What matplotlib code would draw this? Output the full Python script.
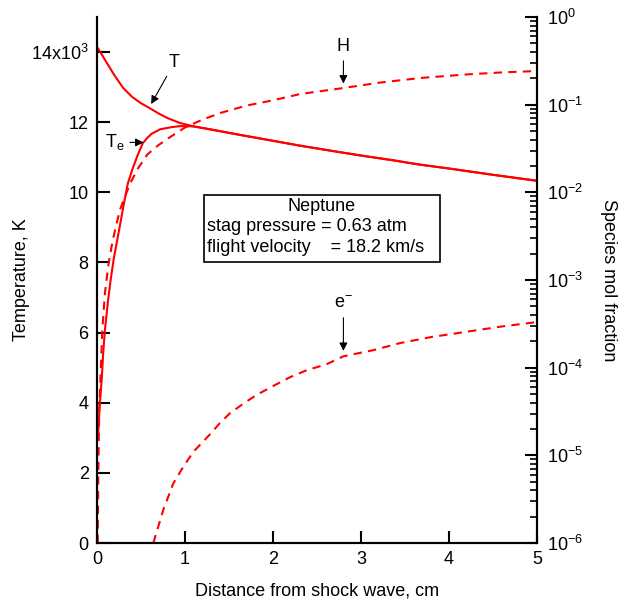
import matplotlib.pyplot as plt
import numpy as np
from matplotlib.patches import Rectangle
from matplotlib.ticker import FixedLocator, LogLocator, NullFormatter

plt.rcParams['font.family'] = ['Liberation Sans', 'DejaVu Sans']
plt.rcParams['mathtext.fontset'] = 'custom'
plt.rcParams['mathtext.rm'] = 'Liberation Sans'
plt.rcParams['mathtext.it'] = 'Liberation Sans'

# heavy-particle temperature T, K
x_T = [0.0, 0.05, 0.11, 0.2, 0.3, 0.4, 0.5, 0.6, 0.7, 0.8, 0.94, 1.1, 1.3, 1.6, 2.0, 2.31, 2.7, 3.0, 3.35, 3.67, 4.0, 4.5, 5.0]
T   = [14150, 13950, 13700, 13330, 12970, 12720, 12540, 12400, 12250, 12120, 11980, 11880, 11790, 11650, 11470, 11330, 11170, 11050, 10920, 10790, 10680, 10500, 10330]

# electron temperature Te, K (merges with T past ~1 cm)
x_Te = [0.01, 0.03, 0.053, 0.07, 0.09, 0.125, 0.155, 0.19, 0.23, 0.3, 0.35, 0.4, 0.46, 0.52, 0.57, 0.62, 0.72, 0.85, 0.95, 1.1, 1.3, 1.6, 2.0, 2.31, 2.7, 3.0, 3.35, 3.67, 4.0, 4.5, 5.0]
Te   = [3000, 3900, 4650, 5400, 6080, 6900, 7500, 8100, 8640, 9600, 10250, 10640, 11050, 11400, 11550, 11670, 11800, 11860, 11890, 11880, 11790, 11650, 11470, 11330, 11170, 11050, 10920, 10790, 10680, 10500, 10330]

# H mole fraction (log10)
x_H  = [0.008, 0.015, 0.025, 0.06, 0.09, 0.13, 0.18, 0.26, 0.375, 0.47, 0.57, 0.7, 0.83, 1.0, 1.2, 1.4, 1.7, 2.0, 2.31, 2.8, 3.2, 3.67, 4.2, 4.6, 5.0]
lg_H = [-6.0, -5.2, -4.5, -3.57, -3.15, -2.82, -2.54, -2.2, -1.9, -1.72, -1.57, -1.46, -1.37, -1.26, -1.17, -1.095, -1.01, -0.95, -0.878, -0.81, -0.75, -0.696, -0.655, -0.632, -0.616]

# electron mole fraction (log10)
x_e  = [0.64, 0.754, 0.867, 0.981, 1.095, 1.208, 1.284, 1.398, 1.511, 1.663, 1.814, 2.0, 2.19, 2.38, 2.61, 2.8, 3.14, 3.44, 3.8, 4.2, 4.6, 5.0]
lg_e = [-6.0, -5.62, -5.32, -5.13, -4.96, -4.84, -4.76, -4.63, -4.52, -4.41, -4.31, -4.21, -4.11, -4.03, -3.96, -3.87, -3.80, -3.72, -3.65, -3.59, -3.53, -3.48]

red = '#ff0000'

fig = plt.figure(figsize=(6.25, 6.12), dpi=100)
ax = fig.add_axes([0.1552, 0.1127, 0.7040, 0.8595])
ax2 = ax.twinx()

ax.plot(x_T, T, color=red, lw=1.5)
ax.plot(x_Te, Te, color=red, lw=1.5)
ax2.plot(x_H, 10**np.array(lg_H), color=red, lw=1.5, ls=(0, (4, 3)))
ax2.plot(x_e, 10**np.array(lg_e), color=red, lw=1.5, ls=(0, (4, 3)))

ax.set_xlim(0, 5)
ax.set_ylim(0, 15000)
ax2.set_yscale('log')
ax2.set_ylim(1e-6, 1)

for a in (ax, ax2):
    a.spines['top'].set_visible(False)
    for s in a.spines.values():
        s.set_linewidth(1.5)

ax.set_xticks([0, 1, 2, 3, 4, 5])
ax.yaxis.set_major_locator(FixedLocator([0, 2000, 4000, 6000, 8000, 10000, 12000, 14000]))
ax.set_yticklabels(['0', '2', '4', '6', '8', '10', '12', '14x10$^{3}$'])
ax.tick_params(axis='both', direction='in', length=9, width=1.5, labelsize=13, pad=6)
ax.tick_params(axis='y', right=False)
ax.tick_params(axis='x', top=False)

ax2.yaxis.set_major_locator(LogLocator(base=10, numticks=10))
ax2.yaxis.set_minor_locator(LogLocator(base=10, subs=np.arange(2, 10), numticks=20))
ax2.yaxis.set_minor_formatter(NullFormatter())
ax2.tick_params(axis='y', which='major', direction='in', length=9, width=1.5, labelsize=13, pad=7)
ax2.tick_params(axis='y', which='minor', direction='in', length=5, width=1.2)

ax.set_xlabel('Distance from shock wave, cm', fontsize=13, labelpad=10)
ax.set_ylabel('Temperature, K', fontsize=13, labelpad=1)
ax2.set_ylabel('Species mol fraction', fontsize=13, rotation=270, va='bottom', labelpad=12)

arrow = dict(arrowstyle='-|>', color='black', lw=0.8, mutation_scale=12)
ax.annotate('T', xy=(0.6, 12450), xytext=(0.88, 13700), fontsize=13,
            ha='center', va='center', arrowprops=arrow)
ax.annotate('T$_{e}$', xy=(0.56, 11420), xytext=(0.2, 11430), fontsize=13,
            ha='center', va='center', arrowprops=arrow)
ax2.annotate('H', xy=(2.8, 10**-0.79), xytext=(2.8, 10**-0.34), fontsize=13,
             ha='center', va='center', arrowprops=arrow)
ax2.annotate('e$^{-}$', xy=(2.8, 10**-3.84), xytext=(2.8, 10**-3.27), fontsize=13,
             ha='center', va='center', arrowprops=arrow)

# info box
ax.add_patch(Rectangle((1.216, 8020), 2.682, 1910, fc='white', ec='black', lw=1.2, zorder=4))
ax.text(2.557, 9600, 'Neptune', fontsize=13, ha='center', va='center', zorder=5)
ax.text(1.25, 9030, 'stag pressure = 0.63 atm', fontsize=13, ha='left', va='center', zorder=5)
ax.text(1.25, 8440, 'flight velocity    = 18.2 km/s', fontsize=13, ha='left', va='center', zorder=5)

fig.savefig('out.png', dpi=100)
